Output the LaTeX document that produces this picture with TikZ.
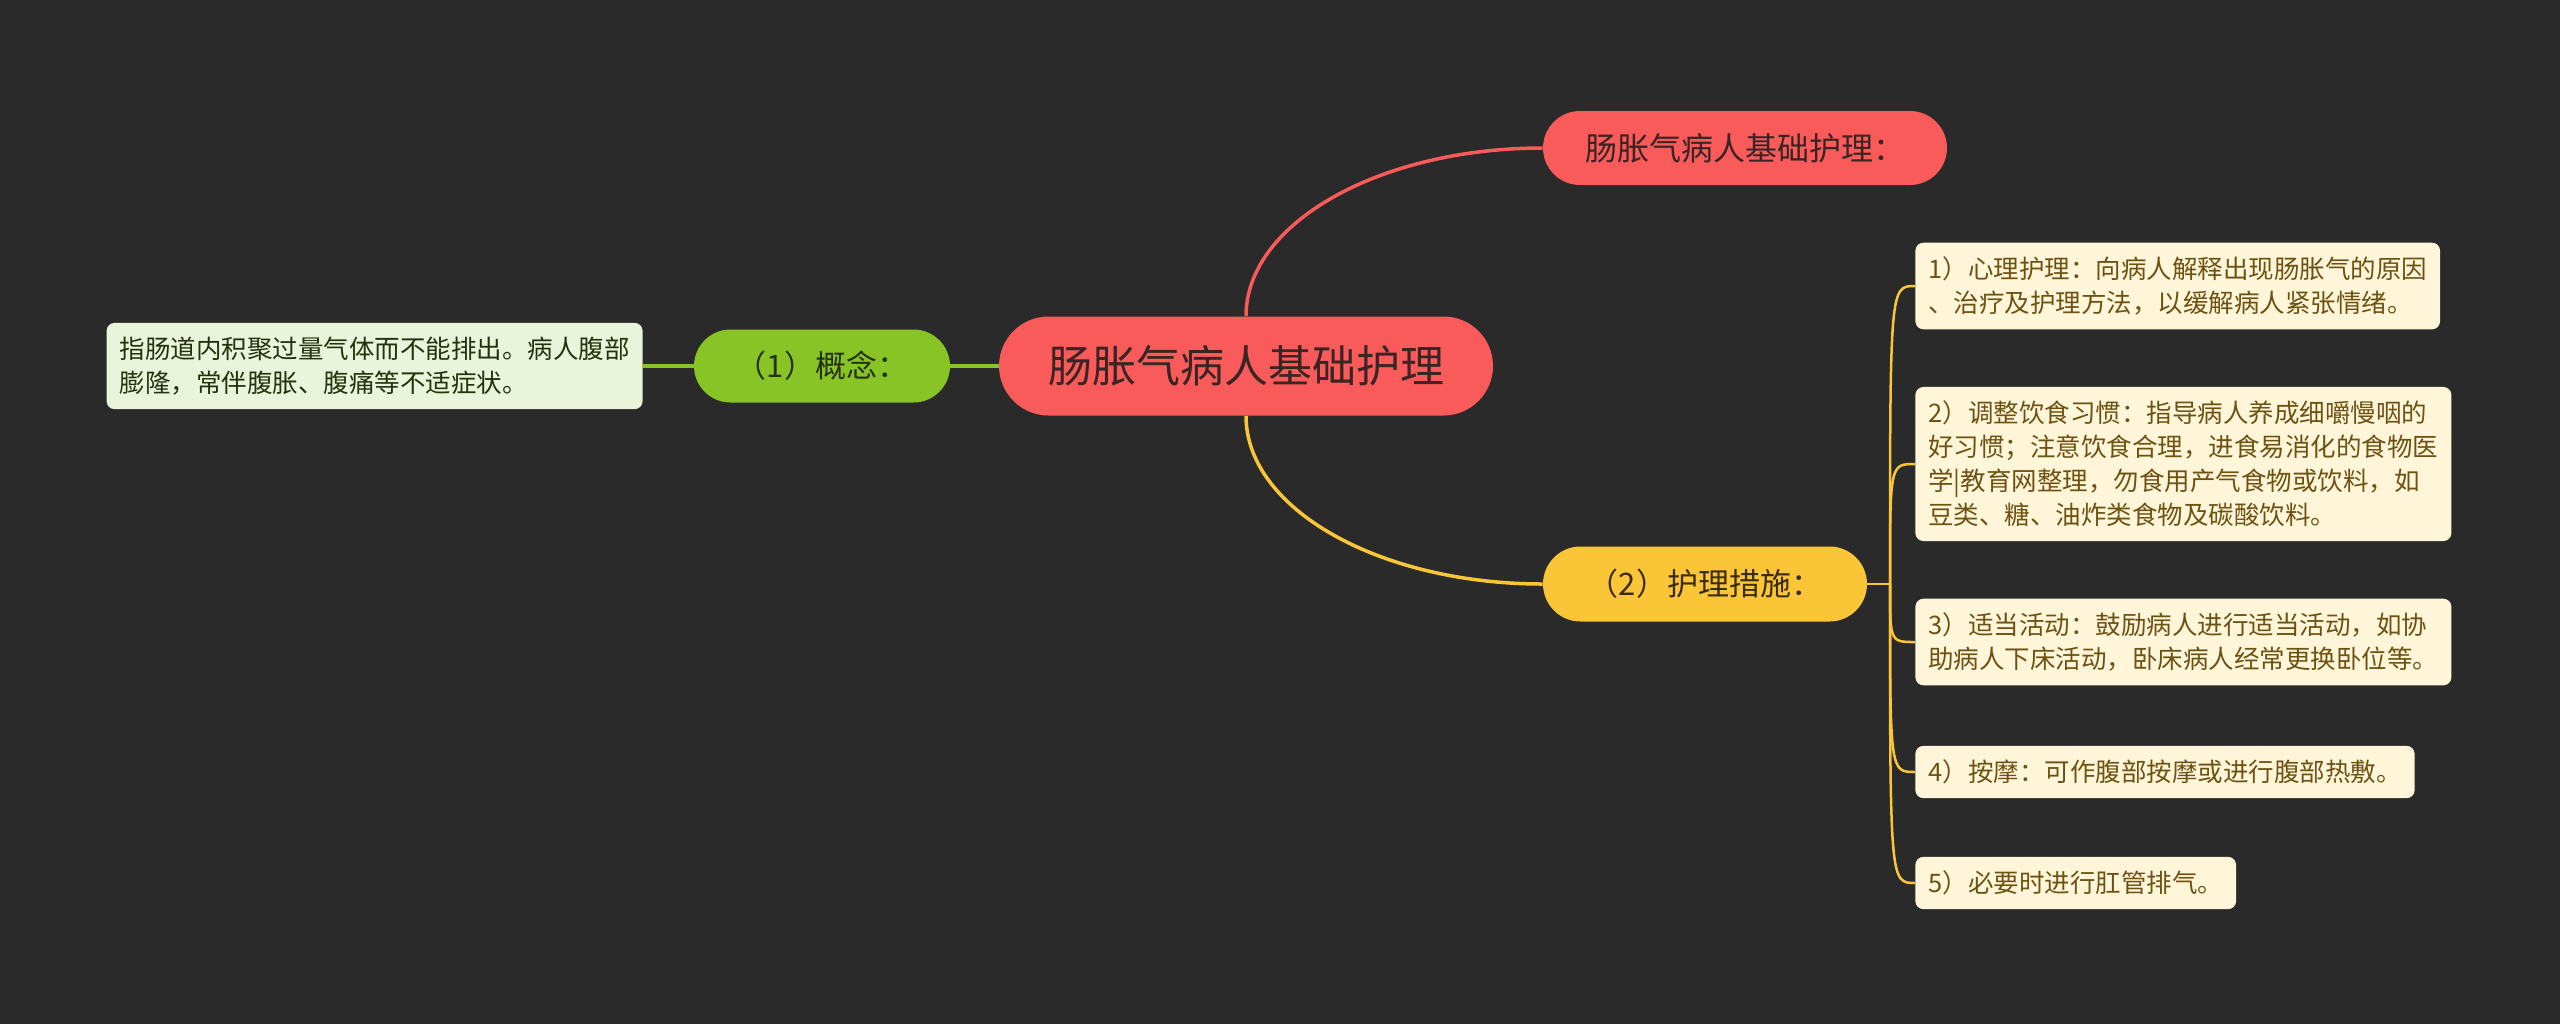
\documentclass[tikz,border=0pt]{standalone}
\usepackage{fontspec}
\setmainfont{Noto Sans CJK SC}
\definecolor{mmBg}{HTML}{2A2A2A}
\definecolor{mmRed}{HTML}{F95A5A}
\definecolor{mmRedText}{HTML}{3A2424}
\definecolor{mmGreen}{HTML}{88C425}
\definecolor{mmGreenText}{HTML}{24320F}
\definecolor{mmYellow}{HTML}{FAC638}
\definecolor{mmYellowText}{HTML}{3A2C0A}
\definecolor{mmLeafGreen}{HTML}{EAF4DA}
\definecolor{mmLeafYellow}{HTML}{FFF6DA}
\definecolor{mmBrown}{HTML}{6E5212}
\usetikzlibrary{shapes.misc}

\begin{document}
\begin{tikzpicture}[x=0.5pt, y=-0.5pt,
  pill/.style={rounded rectangle, inner sep=0pt},
  leaf/.style={rounded corners=4pt, align=left, inner xsep=6.5pt, inner ysep=7pt,
    font=\fontsize{12.75pt}{17pt}\selectfont}]
  \fill[mmBg] (0,0) rectangle (2560,1024);

  % main topic and branches
  \node[pill, fill=mmRed, text=mmRedText, minimum width=247pt, minimum height=49.5pt,
    font=\fontsize{22pt}{26pt}\selectfont] (root) at (1246,366) {肠胀气病人基础护理};
  \node[pill, fill=mmRed, text=mmRedText, minimum width=202pt, minimum height=37pt,
    font=\fontsize{16pt}{19pt}\selectfont] (basic) at (1745,148) {肠胀气病人基础护理：};
  \node[pill, fill=mmGreen, text=mmGreenText, minimum width=128pt, minimum height=36.5pt,
    font=\fontsize{15.5pt}{19pt}\selectfont] (concept) at (822,366) {（1）概念：};
  \node[pill, fill=mmYellow, text=mmYellowText, minimum width=162pt, minimum height=37.5pt,
    font=\fontsize{15.5pt}{19pt}\selectfont] (care) at (1705,584) {（2）护理措施：};

  % leaves
  \node[leaf, fill=mmLeafGreen, text=mmGreenText, anchor=east] (define) at (643,366)
    {指肠道内积聚过量气体而不能排出。病人腹部\\膨隆，常伴腹胀、腹痛等不适症状。};
  \node[leaf, fill=mmLeafYellow, text=mmBrown, anchor=west] (m1) at (1915,286)
    {1）心理护理：向病人解释出现肠胀气的原因\\、治疗及护理方法，以缓解病人紧张情绪。};
  \node[leaf, fill=mmLeafYellow, text=mmBrown, anchor=west] (m2) at (1915,464)
    {2）调整饮食习惯：指导病人养成细嚼慢咽的\\好习惯；注意饮食合理，进食易消化的食物医\\学|教育网整理，勿食用产气食物或饮料，如\\豆类、糖、油炸类食物及碳酸饮料。};
  \node[leaf, fill=mmLeafYellow, text=mmBrown, anchor=west] (m3) at (1915,642)
    {3）适当活动：鼓励病人进行适当活动，如协\\助病人下床活动，卧床病人经常更换卧位等。};
  \node[leaf, fill=mmLeafYellow, text=mmBrown, anchor=west] (m4) at (1915,772)
    {4）按摩：可作腹部按摩或进行腹部热敷。};
  \node[leaf, fill=mmLeafYellow, text=mmBrown, anchor=west] (m5) at (1915,883)
    {5）必要时进行肛管排气。};

  % connectors
  \draw[mmRed, line width=1.75pt] (root.north) .. controls +(0,-93) and +(-163,0) .. (basic.west);
  \draw[mmYellow, line width=1.75pt] (root.south) .. controls +(0,93) and +(-163,0) .. (care.west);
  \draw[mmGreen, line width=1.75pt] (root.west) -- (concept.east);
  \draw[mmGreen, line width=1.75pt] (concept.west) -- (define.east);

  \coordinate (fork) at (1890,584);
  \draw[mmYellow, line width=1.25pt] (care.east) -- (fork);
  \foreach \i in {1,...,5}
    \draw[mmYellow, line width=1.25pt] (fork) .. controls (fork |- m\i.west) .. (m\i.west);
\end{tikzpicture}
\end{document}
